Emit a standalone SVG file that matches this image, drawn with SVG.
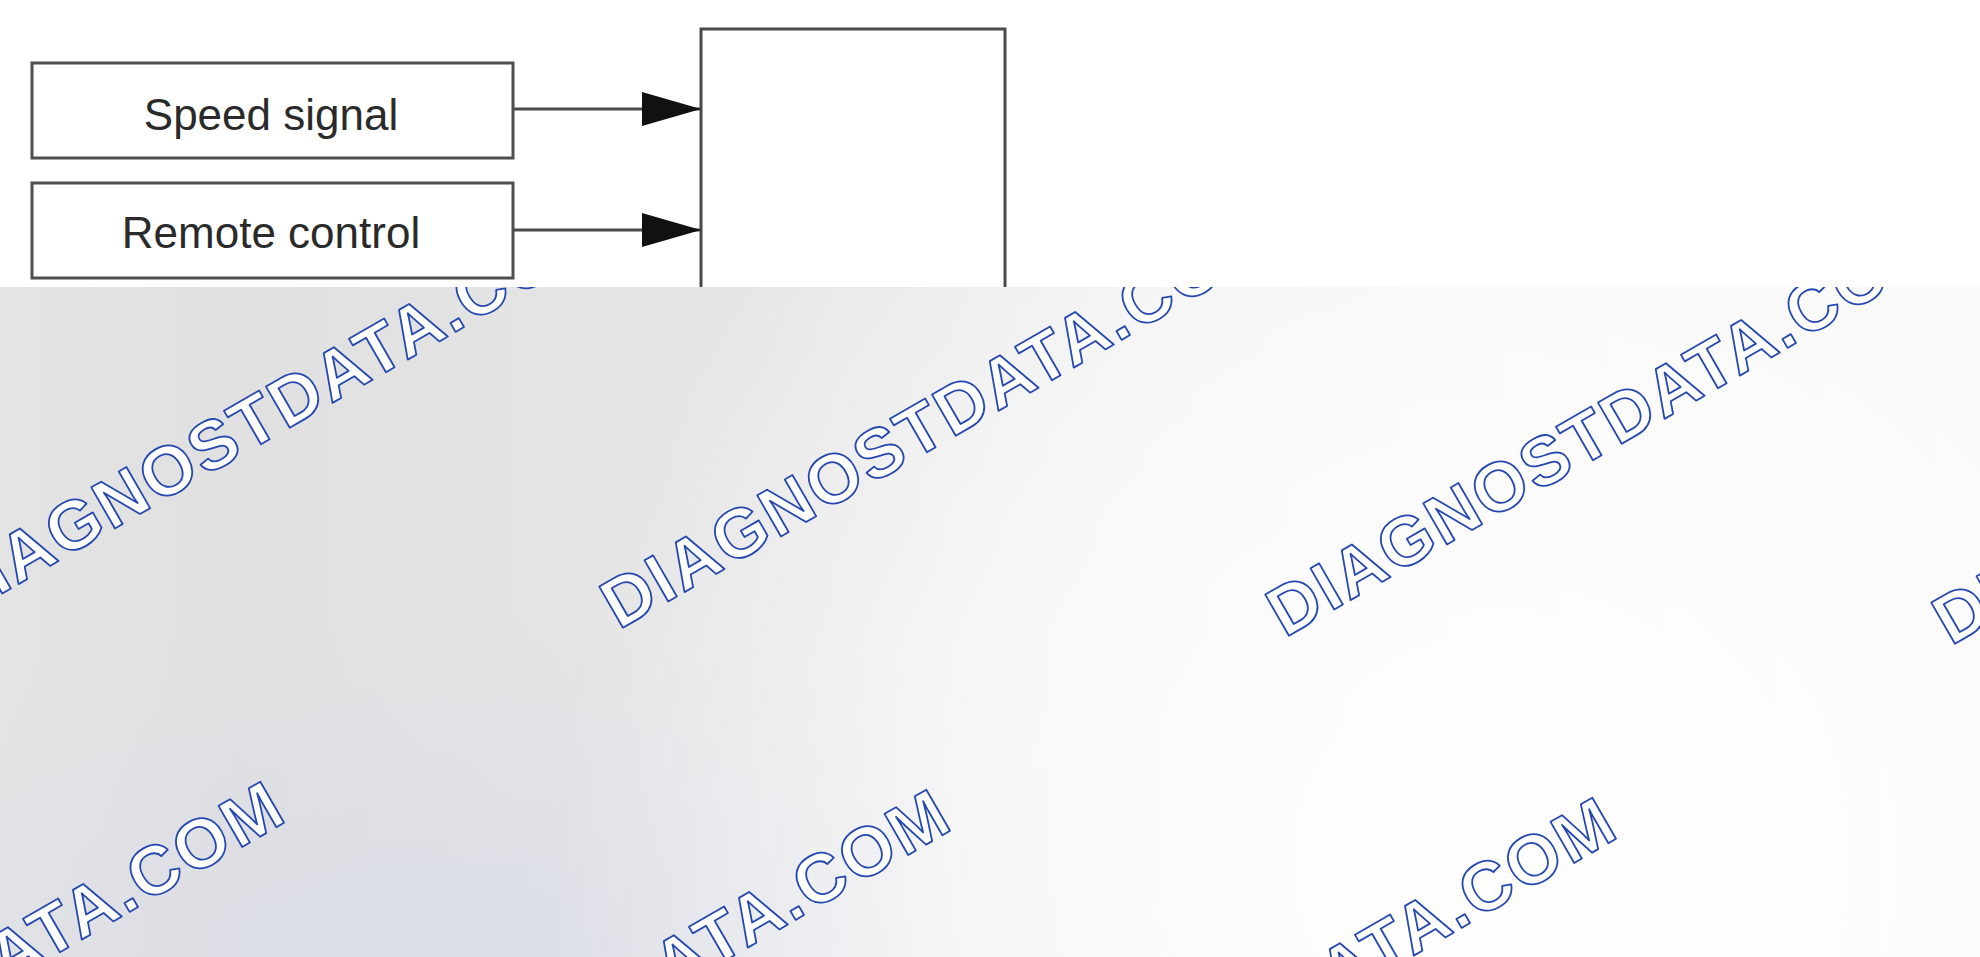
<svg xmlns="http://www.w3.org/2000/svg" width="1980" height="957" viewBox="0 0 1980 957">
  <style>
    .box { fill: #ffffff; stroke: #4e4e4e; stroke-width: 3; }
    .lbl { font-family: "Liberation Sans", Arial, sans-serif; font-size: 44px; fill: #2a2a2a; text-anchor: middle; }
    .conn { stroke: #4a4a4a; stroke-width: 3; fill: none; }
    .wm { font-family: "Liberation Sans", Arial, sans-serif; font-weight: bold; font-size: 69px; letter-spacing: 2.5px; fill: #ffffff; stroke: #2548b0; stroke-width: 1.8; stroke-linejoin: round; }
  </style>
  <defs>
    <marker id="arrow" markerUnits="userSpaceOnUse" markerWidth="60" markerHeight="34" refX="59" refY="17" orient="auto">
      <path d="M0,0 L59,17 L0,34 Z" fill="#111111"/>
    </marker>
    <linearGradient id="bgH" x1="0" y1="0" x2="1980" y2="0" gradientUnits="userSpaceOnUse">
      <stop offset="0" stop-color="#e4e4e4"/>
      <stop offset="0.12" stop-color="#e0e0e0"/>
      <stop offset="0.45" stop-color="#e8e8e8"/>
      <stop offset="0.62" stop-color="#efefef"/>
      <stop offset="1" stop-color="#f6f6f6"/>
    </linearGradient>
    <radialGradient id="glow" cx="1500" cy="860" r="950" gradientUnits="userSpaceOnUse">
      <stop offset="0" stop-color="#ffffff" stop-opacity="0.95"/>
      <stop offset="0.55" stop-color="#ffffff" stop-opacity="0.65"/>
      <stop offset="1" stop-color="#ffffff" stop-opacity="0"/>
    </radialGradient>
    <radialGradient id="blue" cx="450" cy="960" r="600" gradientUnits="userSpaceOnUse" gradientTransform="translate(450 960) scale(1.3 0.6) translate(-450 -960)">
      <stop offset="0" stop-color="#d8dce8" stop-opacity="0.8"/>
      <stop offset="1" stop-color="#dde0ea" stop-opacity="0"/>
    </radialGradient>
    <clipPath id="band">
      <rect x="0" y="287" width="1980" height="670"/>
    </clipPath>
  </defs>

  <!-- white upper area -->
  <rect x="0" y="0" width="1980" height="287" fill="#ffffff"/>

  <!-- grey lower band with watermark -->
  <g id="background-band">
    <rect x="0" y="287" width="1980" height="670" fill="url(#bgH)"/>
    <rect x="0" y="287" width="1980" height="670" fill="url(#blue)"/>
    <rect x="0" y="287" width="1980" height="670" fill="url(#glow)"/>
    <g clip-path="url(#band)">
      <text class="wm" transform="translate(-47 622) rotate(-30)">DIAGNOSTDATA.COM</text>
      <text class="wm" transform="translate(619 630) rotate(-30)">DIAGNOSTDATA.COM</text>
      <text class="wm" transform="translate(1285 638) rotate(-30)">DIAGNOSTDATA.COM</text>
      <text class="wm" transform="translate(1951 646) rotate(-30)">DIAGNOSTDATA.COM</text>
      <text class="wm" transform="translate(-373 1202) rotate(-30)">DIAGNOSTDATA.COM</text>
      <text class="wm" transform="translate(293 1210) rotate(-30)">DIAGNOSTDATA.COM</text>
      <text class="wm" transform="translate(959 1218) rotate(-30)">DIAGNOSTDATA.COM</text>
    </g>
  </g>

  <g id="speed-signal">
    <rect class="box" x="32" y="63" width="481" height="95"/>
    <text class="lbl" x="271" y="130">Speed signal</text>
  </g>

  <g id="remote-control">
    <rect class="box" x="32" y="183" width="481" height="95"/>
    <text class="lbl" x="271" y="248">Remote control</text>
  </g>

  <g id="control-unit">
    <rect x="701" y="29" width="304" height="258" fill="#ffffff"/>
    <path class="conn" d="M701,287 V29 H1005 V287"/>
  </g>

  <g id="connectors">
    <line class="conn" x1="513" y1="109" x2="701" y2="109" marker-end="url(#arrow)"/>
    <line class="conn" x1="513" y1="230" x2="701" y2="230" marker-end="url(#arrow)"/>
  </g>
</svg>
